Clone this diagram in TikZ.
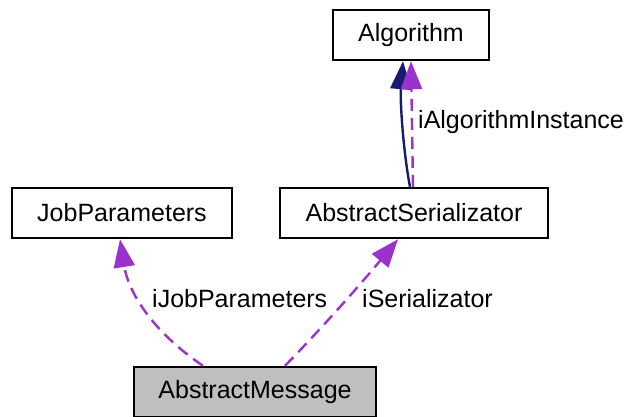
\documentclass[tikz,border=0pt]{standalone}
\usepackage{fontspec}
\setmainfont{Liberation Sans}
\usetikzlibrary{arrows.meta}

\definecolor{relPurple}{HTML}{9A32CD}
\definecolor{inhNavy}{HTML}{191970}
\definecolor{boxGray}{HTML}{BFBFBF}

\begin{document}
\begin{tikzpicture}[
    x=1pt, y=-1pt,
    cls/.style={draw, line width=2.4pt, minimum height=50pt, inner xsep=0pt,
                font=\fontsize{25}{28}\selectfont},
    rel/.style={-{Triangle[width=21pt, length=28pt]}, line width=2.4pt,
                relPurple, dash pattern=on 12pt off 7pt},
    inh/.style={-{Triangle[width=21pt, length=28pt]}, line width=2.4pt, inhNavy},
    lbl/.style={font=\fontsize{25}{28}\selectfont, anchor=west, inner sep=0pt},
]
\useasboundingbox (0, 0) rectangle (633, 416);

% --- Classes ---
\node[cls, minimum width=156pt] (algorithm) at (411, 35) {Algorithm};
\node[cls, minimum width=220pt] (jobparams) at (122, 213) {JobParameters};
\node[cls, minimum width=268pt] (serializer) at (414, 213) {AbstractSerializator};
\node[cls, minimum width=242pt, fill=boxGray] (message) at (255, 392) {AbstractMessage};

% --- Inheritance (solid) ---
\draw[inh] ([xshift=-4pt]serializer.north)
    .. controls (403, 150) and (400, 100) .. ([xshift=-8pt]algorithm.south);

% --- Members (dashed) ---
\draw[rel] ([xshift=-1pt]serializer.north) -- ([xshift=0pt]algorithm.south);
\draw[rel] ([xshift=-52pt]message.north)
    .. controls (150, 330) and (128, 290) .. ([xshift=-2pt]jobparams.south);
\draw[rel] ([xshift=30pt]message.north)
    .. controls (320, 330) and (360, 285) .. ([xshift=-16pt]serializer.south);

% Labels
\node[lbl] (lblalg) at (418, 122) {iAlgorithmInstance};
\node[lbl] (lbljob) at (152, 299) {iJobParameters};
\node[lbl] (lblser) at (362, 299) {iSerializator};

\end{tikzpicture}
\end{document}
